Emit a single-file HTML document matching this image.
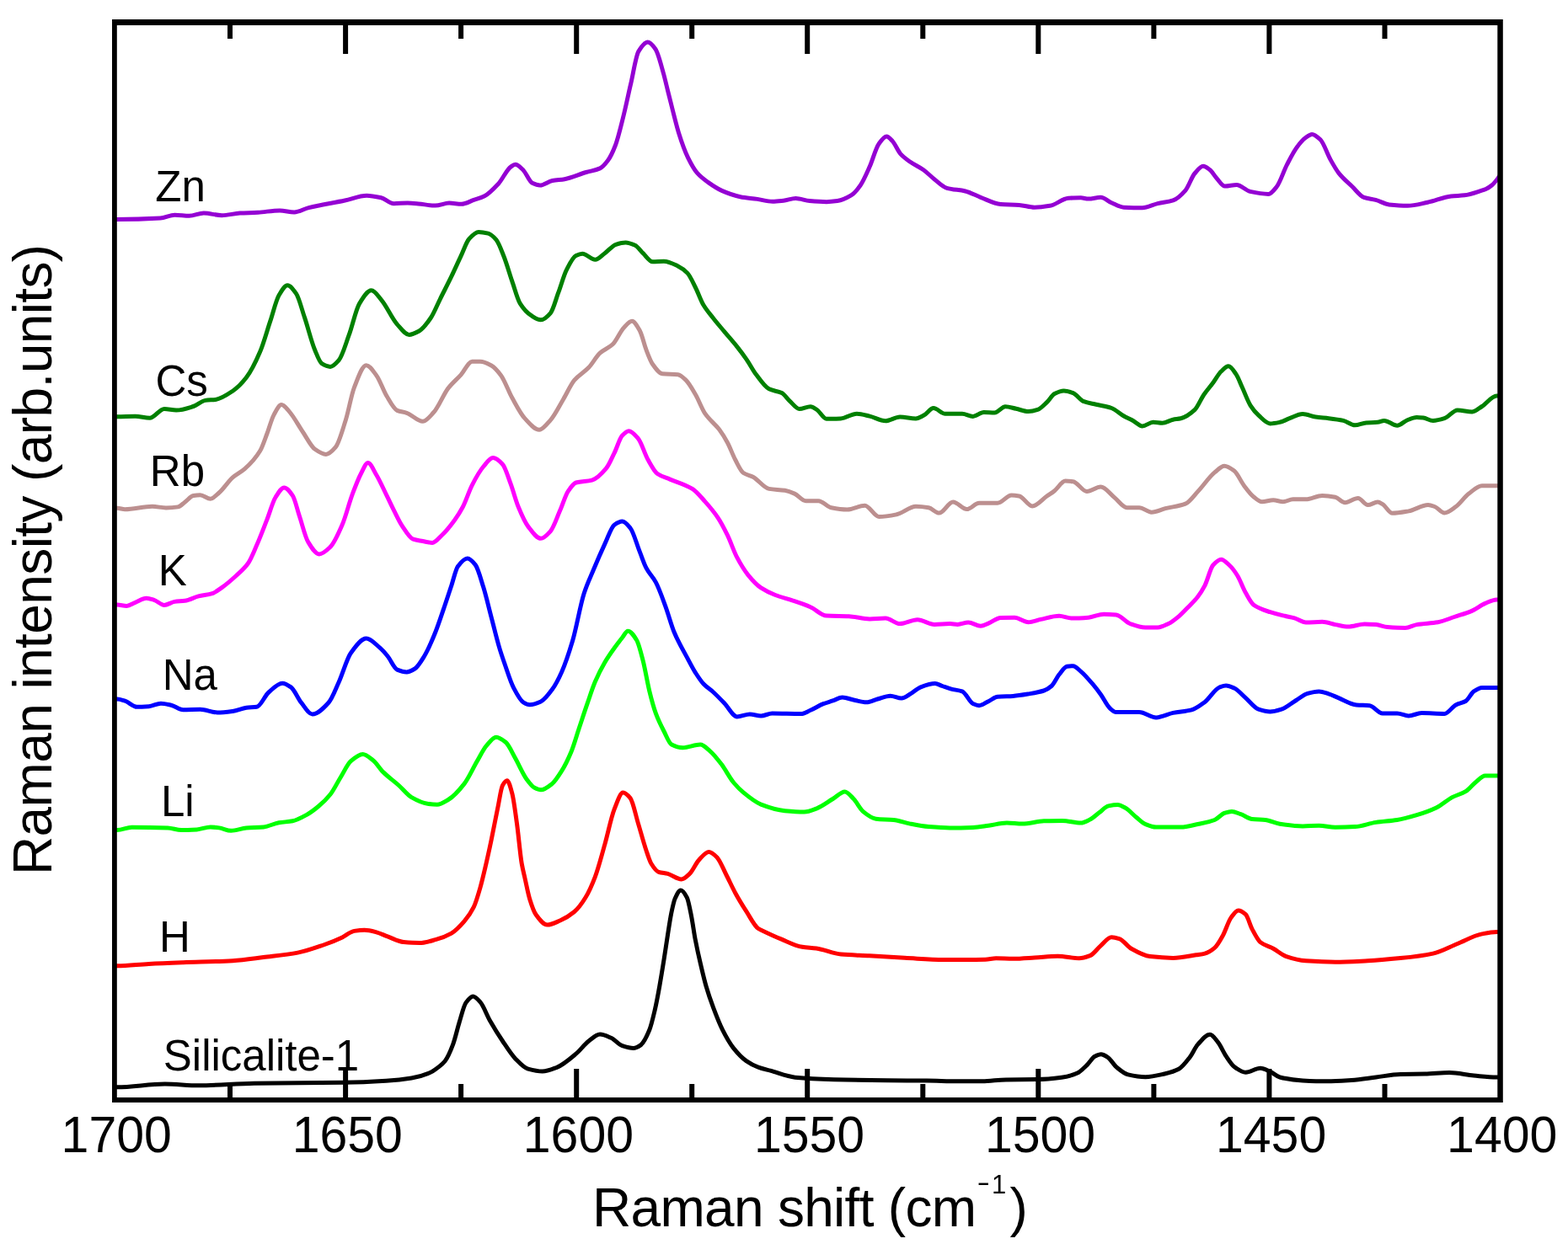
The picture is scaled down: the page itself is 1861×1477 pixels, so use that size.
<!DOCTYPE html>
<html><head><meta charset="utf-8"><title>Raman spectra</title>
<style>
html,body{margin:0;padding:0;background:#fff;overflow:hidden;}
svg{display:block;}
text{font-family:"Liberation Sans",Arial,Helvetica,sans-serif;fill:#000;}
</style></head><body>
<svg width="1861" height="1477" viewBox="0 0 1861 1477">
<rect x="0" y="0" width="1861" height="1477" fill="#fff"/>
<defs><clipPath id="pa"><rect x="136.0" y="26.5" width="1644.5" height="1279.0"/></clipPath></defs>
<g clip-path="url(#pa)" fill="none" stroke-width="5.0" stroke-linejoin="round" stroke-linecap="round">
<path stroke="#9400d3" d="M136.0 260.6C136.9 260.6 137.7 260.6 138.6 260.6C155.8 260.6 173.0 260.1 190.2 259.1C195.9 258.8 201.7 255.2 207.4 255.2C213.1 255.2 218.9 256.3 224.6 256.3C230.3 256.3 236.1 253.1 241.8 253.1C249.0 253.1 256.1 255.7 263.3 255.7C270.5 255.7 277.6 253.5 284.8 253.1C291.9 252.7 299.1 252.6 306.2 252.2C314.8 251.7 323.4 249.9 332.0 249.9C337.7 249.9 343.5 252.0 349.2 252.0C354.9 252.0 360.7 248.0 366.4 246.6C380.7 243.0 395.1 241.0 409.4 238.0C418.0 236.2 426.6 232.2 435.2 232.2C440.9 232.2 446.7 233.5 452.4 234.8C457.4 236.0 462.4 241.7 467.4 241.7C472.9 241.7 478.3 241.0 483.8 241.0C488.0 241.0 492.3 241.5 496.5 241.9C503.2 242.5 509.9 244.1 516.6 244.1C522.1 244.1 527.6 241.0 533.1 241.0C538.0 241.0 542.8 242.3 547.7 242.3C552.6 242.3 557.4 239.1 562.3 237.4C566.6 235.9 570.8 234.9 575.1 232.8C580.6 230.0 586.0 224.1 591.5 218.2C596.4 212.9 601.3 201.5 606.2 198.1C608.0 196.8 609.8 195.3 611.6 195.3C614.7 195.3 617.7 198.9 620.8 201.7C624.4 205.1 628.1 215.6 631.7 217.3C634.8 218.8 637.8 220.0 640.9 220.0C645.8 220.0 650.6 215.4 655.5 214.5C660.4 213.6 665.2 213.5 670.1 212.7C678.6 211.2 687.2 207.0 695.7 204.5C701.2 202.9 706.6 202.4 712.1 199.9C715.2 198.5 718.2 194.9 721.3 190.8C724.3 186.8 727.4 180.3 730.4 172.5C733.4 164.7 736.5 151.6 739.5 139.6C742.6 127.5 745.6 112.5 748.7 99.4C751.7 86.4 754.8 66.1 757.8 61.1C761.5 55.1 765.1 50.1 768.8 50.1C771.8 50.1 774.9 54.1 777.9 58.3C781.0 62.6 784.2 75.7 787.3 86.6C789.1 93.0 791.0 101.3 792.8 108.6C794.6 115.9 796.5 123.4 798.3 130.5C800.7 139.9 803.2 150.2 805.6 157.9C809.2 169.4 812.9 179.6 816.5 187.1C820.2 194.6 823.8 201.2 827.5 205.4C831.8 210.3 836.0 213.3 840.3 216.4C845.8 220.3 851.2 224.0 856.7 226.4C864.0 229.6 871.4 232.3 878.7 233.7C885.4 235.0 892.1 235.4 898.8 236.4C904.9 237.3 910.9 239.2 917.0 239.2C921.3 239.2 925.5 238.7 929.8 238.3C934.7 237.8 939.5 235.5 944.4 235.5C949.9 235.5 955.4 238.1 960.9 238.6C967.6 239.2 974.3 239.7 981.0 239.7C985.3 239.7 989.5 239.2 993.8 238.6C999.3 237.8 1004.7 235.2 1010.2 231.9C1013.9 229.7 1017.5 225.2 1021.2 220.0C1024.8 214.9 1028.5 206.2 1032.1 198.1C1035.8 189.9 1039.4 175.7 1043.1 170.7C1046.1 166.5 1049.2 161.9 1052.2 161.9C1054.6 161.9 1057.1 165.3 1059.5 167.9C1062.6 171.2 1065.6 179.2 1068.7 182.6C1072.3 186.6 1076.0 189.1 1079.6 191.7C1085.1 195.6 1090.6 197.8 1096.1 201.7C1100.4 204.8 1104.6 209.4 1108.9 212.7C1113.9 216.6 1118.8 221.9 1123.8 223.3C1131.1 225.4 1138.4 225.2 1145.7 227.0C1151.8 228.5 1157.8 232.0 1163.9 234.3C1171.8 237.3 1179.8 241.9 1187.7 242.5C1195.0 243.0 1202.3 242.9 1209.6 243.4C1215.7 243.8 1221.8 246.2 1227.9 246.2C1234.0 246.2 1240.1 245.3 1246.2 244.3C1253.5 243.1 1260.8 235.6 1268.1 235.2C1273.0 235.0 1277.8 234.8 1282.7 234.8C1285.7 234.8 1288.8 236.1 1291.8 236.1C1296.7 236.1 1301.5 234.3 1306.4 234.3C1310.7 234.3 1314.9 238.9 1319.2 240.7C1324.1 242.8 1329.0 246.0 1333.9 246.2C1341.2 246.5 1348.5 246.7 1355.8 246.7C1361.9 246.7 1367.9 243.0 1374.0 241.6C1380.1 240.2 1386.2 239.9 1392.3 237.9C1397.2 236.3 1402.0 231.7 1406.9 226.1C1410.6 221.9 1414.2 210.3 1417.9 206.0C1421.3 202.0 1424.6 197.2 1428.0 197.2C1430.6 197.2 1433.3 199.6 1435.9 201.6C1438.6 203.6 1441.2 208.6 1443.9 211.5C1447.2 215.1 1450.5 221.1 1453.8 221.1C1458.4 221.1 1463.1 219.5 1467.7 219.5C1473.0 219.5 1478.3 226.2 1483.6 227.4C1490.9 229.0 1498.2 230.4 1505.5 230.4C1508.8 230.4 1512.1 225.6 1515.4 221.5C1519.4 216.5 1523.4 203.3 1527.4 195.6C1531.4 187.9 1535.3 180.0 1539.3 174.7C1542.6 170.3 1545.9 166.2 1549.2 163.8C1551.9 161.9 1554.5 159.4 1557.2 159.4C1560.5 159.4 1563.8 162.6 1567.1 165.8C1571.1 169.6 1575.1 182.5 1579.1 189.6C1582.4 195.5 1585.7 201.4 1589.0 205.6C1594.3 212.3 1599.6 216.4 1604.9 221.5C1609.5 226.0 1614.2 232.8 1618.8 234.4C1623.4 236.0 1628.1 236.2 1632.7 237.4C1638.0 238.8 1643.3 242.3 1648.6 242.9C1655.9 243.7 1663.2 244.3 1670.5 244.3C1678.5 244.3 1686.4 241.9 1694.4 240.3C1703.7 238.4 1712.9 234.0 1722.2 233.0C1727.5 232.4 1732.8 232.4 1738.1 231.8C1744.7 231.0 1751.4 228.5 1758.0 226.4C1759.8 225.8 1761.7 225.3 1763.5 224.5C1765.8 223.5 1768.2 221.9 1770.5 220.0C1772.6 218.3 1774.8 215.6 1776.9 213.0C1778.1 211.5 1779.3 209.7 1780.5 208.0"/>
<path stroke="#008000" d="M136.0 494.7C137.0 494.7 138.1 494.7 139.1 494.7C146.2 494.7 153.4 494.3 160.5 494.3C166.2 494.3 172.0 496.3 177.7 496.3C183.5 496.3 189.2 485.5 195.0 485.5C199.7 485.5 204.5 487.0 209.2 487.0C216.0 487.0 222.7 484.6 229.5 482.5C234.2 481.0 239.0 476.1 243.7 475.4C247.8 474.8 251.8 474.9 255.9 474.4C262.7 473.5 269.4 468.8 276.2 464.2C281.6 460.5 287.1 455.1 292.5 448.0C297.9 441.0 303.3 430.1 308.7 417.5C312.8 408.0 316.8 393.1 320.9 380.9C324.3 370.7 327.7 356.2 331.1 350.5C334.5 344.9 337.8 338.7 341.2 338.7C344.6 338.7 348.0 343.6 351.4 348.4C354.8 353.2 358.1 366.9 361.5 376.9C365.6 389.0 369.6 405.8 373.7 415.5C376.4 422.0 379.2 430.0 381.9 431.7C385.3 433.8 388.6 435.4 392.0 435.4C395.4 435.4 398.8 431.5 402.2 427.6C406.3 422.9 410.3 408.3 414.4 397.2C418.4 386.2 422.5 367.2 426.5 360.6C431.3 352.8 436.0 344.8 440.8 344.8C444.9 344.8 448.9 351.8 453.0 356.6C459.1 363.8 465.3 378.4 471.4 385.1C476.1 390.3 480.9 397.4 485.6 397.4C489.7 397.4 493.8 395.0 497.9 392.7C502.3 390.2 506.8 384.0 511.2 377.5C515.0 372.0 518.7 362.4 522.5 354.8C526.9 345.9 531.4 337.4 535.8 328.2C539.6 320.3 543.4 311.7 547.2 303.6C550.4 296.9 553.5 287.2 556.7 283.7C560.5 279.6 564.2 275.5 568.0 275.5C571.8 275.5 575.6 276.2 579.4 277.1C582.6 277.9 585.7 280.9 588.9 284.6C592.1 288.3 595.2 297.4 598.4 305.5C601.5 313.5 604.7 324.8 607.8 333.9C611.0 343.1 614.1 355.4 617.3 360.4C621.7 367.5 626.2 371.9 630.6 374.7C634.4 377.1 638.1 379.8 641.9 379.8C645.7 379.8 649.5 376.1 653.3 371.8C656.5 368.2 659.6 355.7 662.8 347.2C666.0 338.7 669.1 326.9 672.3 320.6C676.1 313.2 679.8 305.4 683.6 303.6C686.1 302.4 688.7 301.3 691.2 301.3C696.3 301.3 701.3 308.3 706.4 308.3C710.2 308.3 714.0 303.4 717.8 300.7C722.2 297.5 726.6 291.7 731.0 290.3C734.8 289.1 738.6 288.0 742.4 288.0C746.2 288.0 750.0 289.6 753.8 291.3C756.9 292.7 760.1 297.8 763.2 300.7C767.0 304.3 770.8 310.8 774.6 310.8C779.0 310.8 783.5 310.2 787.9 310.2C793.5 310.2 799.0 313.2 804.6 315.9C808.4 317.7 812.2 320.3 816.0 324.4C819.2 327.8 822.3 335.2 825.5 341.5C828.7 347.8 831.8 357.0 835.0 362.3C838.8 368.6 842.5 372.7 846.3 377.5C850.7 383.2 855.2 388.3 859.6 393.6C864.7 399.7 869.7 405.2 874.8 411.6C878.6 416.4 882.3 421.3 886.1 426.8C889.9 432.3 893.7 439.8 897.5 444.8C902.6 451.5 907.6 459.3 912.7 461.8C917.7 464.3 922.8 464.1 927.8 466.6C931.0 468.2 934.1 473.2 937.3 476.1C941.1 479.5 944.9 485.5 948.7 485.5C953.1 485.5 957.5 482.7 961.9 482.7C964.4 482.7 967.0 484.9 969.5 486.5C973.3 488.9 977.1 497.3 980.9 497.3C986.6 497.3 992.2 497.1 997.9 496.9C1004.2 496.6 1010.6 491.2 1016.9 491.2C1022.0 491.2 1027.0 492.9 1032.1 494.1C1038.4 495.6 1044.7 499.7 1051.0 499.7C1056.7 499.7 1062.4 495.0 1068.1 495.0C1074.4 495.0 1080.7 496.9 1087.0 496.9C1090.2 496.9 1093.3 494.7 1096.5 493.1C1100.3 491.1 1104.1 484.6 1107.9 484.6C1112.6 484.6 1117.2 491.3 1121.9 491.3C1128.6 491.3 1135.3 491.3 1142.0 491.3C1146.3 491.3 1150.5 494.4 1154.8 494.4C1159.1 494.4 1163.3 489.5 1167.6 489.5C1171.9 489.5 1176.1 490.0 1180.4 490.0C1184.7 490.0 1188.9 482.7 1193.2 482.7C1197.5 482.7 1201.7 484.4 1206.0 485.3C1210.9 486.3 1215.7 488.6 1220.6 488.6C1224.2 488.6 1227.9 487.6 1231.5 486.4C1235.2 485.2 1238.8 481.0 1242.5 477.6C1245.5 474.8 1248.6 469.1 1251.6 467.5C1255.3 465.6 1258.9 463.9 1262.6 463.9C1266.3 463.9 1269.9 465.2 1273.6 466.6C1277.9 468.2 1282.1 475.1 1286.4 476.7C1291.3 478.5 1296.1 479.1 1301.0 480.3C1307.1 481.7 1313.1 482.4 1319.2 484.5C1324.1 486.2 1329.0 491.2 1333.9 494.0C1337.5 496.0 1341.2 497.5 1344.8 499.5C1348.5 501.5 1352.1 505.9 1355.8 505.9C1360.1 505.9 1364.3 501.3 1368.6 501.3C1372.2 501.3 1375.9 502.3 1379.5 502.3C1383.8 502.3 1388.0 499.1 1392.3 498.2C1395.4 497.6 1398.4 497.5 1401.5 496.8C1407.0 495.5 1412.4 491.8 1417.9 486.7C1421.6 483.3 1425.2 473.8 1428.9 468.5C1432.5 463.3 1436.1 459.4 1439.7 454.5C1442.9 450.2 1446.1 444.0 1449.3 441.0C1452.2 438.3 1455.1 434.8 1458.0 434.8C1460.9 434.8 1463.9 439.8 1466.8 443.9C1469.4 447.5 1471.9 454.8 1474.5 460.3C1477.7 467.3 1481.0 476.6 1484.2 481.6C1487.4 486.6 1490.6 490.3 1493.8 493.2C1498.3 497.3 1502.9 502.9 1507.4 502.9C1511.3 502.9 1515.1 502.1 1519.0 501.3C1522.9 500.5 1526.7 498.1 1530.6 496.7C1535.8 494.8 1540.9 491.6 1546.1 491.6C1551.2 491.6 1556.4 494.4 1561.5 495.1C1566.7 495.8 1571.8 496.1 1577.0 496.7C1582.8 497.4 1588.6 498.1 1594.4 499.4C1598.9 500.4 1603.5 504.8 1608.0 504.8C1612.5 504.8 1617.0 502.2 1621.5 501.9C1626.0 501.6 1630.6 501.7 1635.1 501.3C1637.7 501.1 1640.2 499.4 1642.8 499.4C1648.0 499.4 1653.1 505.2 1658.3 505.2C1662.2 505.2 1666.0 500.5 1669.9 499.0C1673.8 497.5 1677.6 495.5 1681.5 495.5C1684.1 495.5 1686.6 495.8 1689.2 496.1C1693.1 496.6 1696.9 499.4 1700.8 499.4C1705.3 499.4 1709.9 498.1 1714.4 496.7C1719.5 495.2 1724.7 487.0 1729.8 487.0C1735.6 487.0 1741.5 488.9 1747.3 488.9C1751.2 488.9 1755.0 484.9 1758.9 482.5C1764.7 478.9 1770.5 470.0 1776.3 470.0C1777.7 470.0 1779.1 470.0 1780.5 470.0"/>
<path stroke="#bc8f8f" d="M136.0 603.3C137.0 603.3 138.1 603.3 139.1 603.3C142.2 603.3 145.2 604.8 148.3 604.8C159.1 604.8 170.0 601.3 180.8 601.3C186.2 601.3 191.6 602.9 197.0 602.9C201.7 602.9 206.5 602.6 211.2 601.9C213.9 601.5 216.7 598.2 219.4 596.2C222.8 593.8 226.1 589.1 229.5 588.5C232.2 588.0 234.9 587.7 237.6 587.7C241.7 587.7 245.7 592.2 249.8 592.2C253.2 592.2 256.6 587.9 260.0 585.0C265.4 580.4 270.8 571.5 276.2 566.8C281.0 562.7 285.7 560.8 290.5 556.6C296.6 551.3 302.6 545.4 308.7 535.3C311.4 530.8 314.2 522.1 316.9 515.0C319.6 507.9 322.3 497.5 325.0 492.6C328.0 487.1 331.1 480.5 334.1 480.5C337.2 480.5 340.2 485.3 343.3 488.6C348.7 494.5 354.1 505.1 359.5 513.0C364.2 519.9 369.0 530.0 373.7 533.3C378.1 536.4 382.5 539.4 386.9 539.4C390.6 539.4 394.4 535.5 398.1 531.2C402.2 526.6 406.2 511.5 410.3 498.7C413.7 488.1 417.0 468.7 420.4 460.1C425.2 448.0 429.9 433.7 434.7 433.7C438.8 433.7 442.8 440.5 446.9 445.9C450.9 451.3 455.0 463.7 459.0 470.3C463.1 477.1 467.3 485.6 471.4 487.4C475.2 489.0 478.9 489.0 482.7 490.3C489.0 492.4 495.4 500.3 501.7 500.3C506.1 500.3 510.6 494.1 515.0 489.3C520.7 483.1 526.3 468.2 532.0 460.9C537.1 454.4 542.1 450.5 547.2 444.8C551.6 439.9 556.0 429.2 560.4 429.2C563.6 429.2 566.7 429.2 569.9 429.2C574.3 429.2 578.8 431.6 583.2 434.0C587.0 436.1 590.8 440.6 594.6 445.7C599.0 451.6 603.4 464.4 607.8 472.3C612.9 481.4 617.9 491.5 623.0 496.9C628.7 502.9 634.3 510.2 640.0 510.2C644.4 510.2 648.9 503.7 653.3 498.8C658.4 493.2 663.4 482.7 668.5 474.2C672.9 466.8 677.3 456.6 681.7 451.4C687.4 444.6 693.1 442.3 698.8 436.3C703.2 431.6 707.7 423.2 712.1 419.2C717.1 414.7 722.2 413.6 727.2 408.8C731.6 404.6 736.1 393.4 740.5 388.9C743.7 385.7 746.8 381.3 750.0 381.3C753.1 381.3 756.3 387.2 759.4 392.7C761.9 397.1 764.5 408.9 767.0 415.4C769.5 421.9 772.1 428.9 774.6 432.5C778.4 437.9 782.2 443.4 786.0 443.8C792.2 444.5 798.4 444.1 804.6 444.8C807.8 445.1 810.9 448.4 814.1 451.4C817.9 455.0 821.7 462.0 825.5 468.5C829.3 475.0 833.1 485.6 836.9 491.2C842.6 499.5 848.2 502.7 853.9 510.3C857.1 514.6 860.2 519.6 863.4 525.5C866.6 531.4 869.7 540.4 872.9 546.3C876.0 552.1 879.2 559.4 882.3 561.5C886.1 564.0 889.9 564.2 893.7 566.2C900.0 569.5 906.4 579.3 912.7 580.4C919.0 581.5 925.3 581.3 931.6 582.3C935.4 582.9 939.2 584.4 943.0 586.1C947.4 588.0 951.9 594.7 956.3 594.7C961.3 594.7 966.4 594.7 971.4 594.7C976.5 594.7 981.5 601.8 986.6 602.8C992.9 604.1 999.2 605.1 1005.5 605.1C1012.5 605.1 1019.4 600.3 1026.4 600.3C1032.1 600.3 1037.7 613.6 1043.4 613.6C1050.4 613.6 1057.3 612.2 1064.3 610.8C1071.9 609.3 1079.4 601.3 1087.0 601.3C1092.1 601.3 1097.1 601.9 1102.2 602.8C1106.3 603.5 1110.5 609.1 1114.6 609.1C1120.1 609.1 1125.6 596.0 1131.1 596.0C1136.6 596.0 1142.0 604.6 1147.5 604.6C1152.4 604.6 1157.2 597.3 1162.1 597.3C1169.4 597.3 1176.7 597.3 1184.0 597.3C1189.5 597.3 1195.0 588.1 1200.5 588.1C1203.5 588.1 1206.6 588.5 1209.6 589.0C1214.8 589.8 1219.9 600.9 1225.1 600.9C1230.9 600.9 1236.7 593.0 1242.5 589.0C1245.5 586.9 1248.6 585.1 1251.6 582.7C1255.9 579.4 1260.1 571.1 1264.4 571.1C1267.5 571.1 1270.5 571.4 1273.6 571.7C1279.1 572.3 1284.5 583.6 1290.0 583.6C1295.5 583.6 1300.9 578.1 1306.4 578.1C1311.9 578.1 1317.4 586.5 1322.9 590.9C1327.8 594.8 1332.6 602.7 1337.5 602.7C1342.4 602.7 1347.2 602.7 1352.1 602.7C1357.0 602.7 1361.8 608.2 1366.7 608.2C1372.2 608.2 1377.7 605.1 1383.2 603.7C1391.1 601.7 1399.0 601.3 1406.9 598.2C1411.8 596.3 1416.7 588.8 1421.6 583.6C1428.3 576.6 1434.9 566.4 1441.6 560.9C1445.5 557.7 1449.3 553.2 1453.2 553.2C1457.1 553.2 1460.9 556.1 1464.8 559.0C1468.7 561.9 1472.5 571.3 1476.4 576.4C1480.3 581.5 1484.1 586.9 1488.0 589.9C1491.2 592.4 1494.5 595.7 1497.7 595.7C1502.2 595.7 1506.7 593.8 1511.2 593.8C1515.1 593.8 1519.0 595.7 1522.9 595.7C1526.8 595.7 1530.6 592.8 1534.5 592.8C1539.6 592.8 1544.8 592.8 1549.9 592.8C1556.4 592.8 1562.8 588.4 1569.3 588.4C1574.5 588.4 1579.6 589.2 1584.8 590.3C1588.7 591.1 1592.5 596.7 1596.4 596.7C1601.5 596.7 1606.7 591.5 1611.8 591.5C1615.7 591.5 1619.5 599.6 1623.4 599.6C1627.3 599.6 1631.2 596.1 1635.1 596.1C1637.0 596.1 1639.0 597.5 1640.9 598.6C1644.8 600.8 1648.6 609.3 1652.5 609.3C1658.9 609.3 1665.4 608.0 1671.8 606.9C1679.5 605.5 1687.3 599.6 1695.0 599.6C1697.6 599.6 1700.2 600.6 1702.8 601.5C1706.7 602.8 1710.5 608.9 1714.4 608.9C1718.9 608.9 1723.4 604.7 1727.9 601.5C1733.1 597.9 1738.2 589.8 1743.4 586.0C1748.6 582.2 1753.7 576.8 1758.9 576.8C1764.7 576.8 1770.5 576.8 1776.3 576.8C1777.7 576.8 1779.1 576.8 1780.5 576.8"/>
<path stroke="#ff00ff" d="M136.0 718.0C137.0 718.0 138.1 718.0 139.1 718.0C142.8 718.0 146.6 719.4 150.3 719.4C153.7 719.4 157.1 716.7 160.5 715.4C164.9 713.7 169.3 710.3 173.7 710.3C176.7 710.3 179.8 711.4 182.8 712.3C186.9 713.5 190.9 718.4 195.0 718.4C199.1 718.4 203.1 715.0 207.2 714.4C211.3 713.8 215.3 713.9 219.4 713.3C224.8 712.6 230.2 709.3 235.6 707.9C241.0 706.5 246.5 706.3 251.9 704.6C255.9 703.3 260.0 699.9 264.0 697.1C269.4 693.3 274.9 688.5 280.3 683.5C285.0 679.1 289.8 675.4 294.5 668.7C297.9 663.9 301.3 655.0 304.7 647.3C308.8 638.1 312.8 627.3 316.9 616.9C320.3 608.3 323.6 595.8 327.0 590.5C330.4 585.1 333.8 578.9 337.2 578.9C340.6 578.9 343.9 583.5 347.3 588.4C350.0 592.3 352.7 604.7 355.4 612.8C358.8 623.0 362.2 637.7 365.6 643.3C370.0 650.5 374.4 657.9 378.8 657.9C383.2 657.9 387.6 653.6 392.0 649.4C396.7 644.9 401.5 633.9 406.2 623.0C410.3 613.6 414.3 597.2 418.4 586.4C421.8 577.4 425.2 568.3 428.6 562.0C431.3 557.0 434.0 549.5 436.7 549.5C440.1 549.5 443.4 558.4 446.8 564.0C450.9 570.8 454.9 580.1 459.0 588.4C461.9 594.2 464.7 600.4 467.6 606.1C470.8 612.4 473.9 619.3 477.1 624.1C481.5 630.7 485.9 638.7 490.3 640.2C494.1 641.5 497.9 641.8 501.7 642.5C505.5 643.2 509.3 644.4 513.1 644.4C516.9 644.4 520.6 639.0 524.4 635.5C529.5 630.8 534.5 624.5 539.6 617.5C542.8 613.1 545.9 608.3 549.1 602.3C552.9 595.2 556.6 583.1 560.4 575.8C564.8 567.2 569.3 559.2 573.7 554.0C577.5 549.6 581.3 543.6 585.1 543.6C588.9 543.6 592.7 547.2 596.5 551.2C599.6 554.5 602.8 565.5 605.9 573.9C609.1 582.4 612.2 594.7 615.4 602.3C619.2 611.5 623.0 620.2 626.8 625.1C631.8 631.6 636.9 639.3 641.9 639.3C645.7 639.3 649.5 635.0 653.3 630.8C657.1 626.6 660.9 614.7 664.7 606.1C667.9 598.9 671.0 588.2 674.2 583.4C677.3 578.7 680.5 573.9 683.6 573.0C689.9 571.1 696.3 571.8 702.6 570.1C708.3 568.6 713.9 562.7 719.6 555.9C722.8 552.1 725.9 544.3 729.1 537.9C732.3 531.5 735.4 520.4 738.6 517.1C741.1 514.5 743.7 511.8 746.2 511.8C750.0 511.8 753.7 516.4 757.5 520.8C761.3 525.2 765.1 538.8 768.9 545.5C772.7 552.2 776.5 559.8 780.3 562.5C785.3 566.0 790.2 566.9 795.2 569.1C804.0 572.9 812.9 574.9 821.7 580.4C826.8 583.5 831.8 590.0 836.9 595.6C841.9 601.2 847.0 607.0 852.0 614.6C855.8 620.3 859.6 627.6 863.4 635.4C867.2 643.2 871.0 654.7 874.8 661.9C879.2 670.2 883.6 677.4 888.0 682.8C893.1 689.0 898.1 694.5 903.2 697.9C908.9 701.7 914.5 704.3 920.2 706.5C927.2 709.2 934.1 710.7 941.1 713.1C948.0 715.4 955.0 717.7 961.9 720.7C968.2 723.5 974.6 730.8 980.9 731.1C989.7 731.5 998.6 731.4 1007.4 731.7C1015.6 732.0 1023.9 734.9 1032.1 734.9C1038.4 734.9 1044.7 734.0 1051.0 734.0C1056.7 734.0 1062.4 740.6 1068.1 740.6C1075.0 740.6 1082.0 735.8 1088.9 735.8C1095.6 735.8 1102.4 741.4 1109.1 741.4C1115.2 741.4 1121.3 740.5 1127.4 740.5C1130.4 740.5 1133.5 741.4 1136.5 741.4C1140.8 741.4 1145.0 739.0 1149.3 739.0C1154.2 739.0 1159.0 743.2 1163.9 743.2C1167.0 743.2 1170.0 741.3 1173.1 740.1C1178.0 738.2 1182.8 733.7 1187.7 733.5C1193.2 733.3 1198.6 733.2 1204.1 733.2C1209.6 733.2 1215.1 738.7 1220.6 738.7C1225.5 738.7 1230.3 736.4 1235.2 735.4C1242.5 733.9 1249.8 731.3 1257.1 731.3C1262.0 731.3 1266.8 734.1 1271.7 734.1C1278.4 734.1 1285.1 733.7 1291.8 733.2C1297.9 732.7 1304.0 729.2 1310.1 729.2C1315.0 729.2 1319.8 729.5 1324.7 729.9C1330.2 730.4 1335.7 738.5 1341.2 740.5C1347.3 742.7 1353.3 745.0 1359.4 745.0C1364.3 745.0 1369.1 745.0 1374.0 745.0C1378.3 745.0 1382.5 742.5 1386.8 740.5C1391.1 738.5 1395.3 734.9 1399.6 731.3C1403.3 728.2 1406.9 724.2 1410.6 720.4C1414.3 716.6 1417.9 713.3 1421.6 708.5C1424.4 704.9 1427.2 700.5 1430.0 695.1C1433.2 688.9 1436.5 674.6 1439.7 671.0C1442.9 667.5 1446.1 664.2 1449.3 664.2C1452.5 664.2 1455.8 668.1 1459.0 671.0C1462.2 673.9 1465.5 678.3 1468.7 683.5C1471.9 688.7 1475.2 698.1 1478.4 703.8C1481.6 709.4 1484.8 716.0 1488.0 718.3C1494.5 722.9 1500.9 724.6 1507.4 726.7C1512.6 728.4 1517.7 729.7 1522.9 730.9C1527.4 732.0 1531.9 732.6 1536.4 733.8C1540.9 735.0 1545.4 739.0 1549.9 739.0C1556.4 739.0 1562.8 738.3 1569.3 738.3C1574.5 738.3 1579.6 740.6 1584.8 741.6C1589.9 742.5 1595.1 744.1 1600.2 744.1C1606.7 744.1 1613.1 741.0 1619.6 741.0C1624.1 741.0 1628.6 741.3 1633.1 741.6C1637.6 741.9 1642.2 744.2 1646.7 744.5C1653.8 745.0 1660.8 745.4 1667.9 745.4C1672.4 745.4 1677.0 742.4 1681.5 741.6C1689.9 740.2 1698.2 740.1 1706.6 738.7C1713.1 737.6 1719.5 734.7 1726.0 732.5C1733.1 730.1 1740.2 728.2 1747.3 725.1C1752.4 722.9 1757.6 718.5 1762.7 716.4C1767.2 714.5 1771.8 712.0 1776.3 712.0C1777.7 712.0 1779.1 712.0 1780.5 712.0"/>
<path stroke="#0000ff" d="M136.0 830.1C137.0 830.1 138.1 830.1 139.1 830.1C142.2 830.1 145.2 831.3 148.3 832.2C153.0 833.6 157.8 839.3 162.5 839.3C167.2 839.3 172.0 839.0 176.7 838.7C181.4 838.4 186.2 835.2 190.9 835.2C195.0 835.2 199.0 836.3 203.1 837.2C207.8 838.3 212.6 842.7 217.3 842.7C224.1 842.7 230.8 842.3 237.6 842.3C244.4 842.3 251.2 846.0 258.0 846.0C264.1 846.0 270.1 845.2 276.2 844.4C281.6 843.7 287.1 841.0 292.5 840.3C296.6 839.8 300.6 839.9 304.7 839.3C309.4 838.6 314.2 826.1 318.9 822.0C324.3 817.3 329.7 811.2 335.1 811.2C338.5 811.2 341.9 813.5 345.3 815.9C349.4 818.7 353.4 829.2 357.5 834.2C361.9 839.6 366.3 848.0 370.7 848.0C377.1 848.0 383.6 841.2 390.0 834.2C394.1 829.8 398.1 818.7 402.2 809.8C406.9 799.4 411.7 781.9 416.4 775.3C422.5 766.8 428.6 758.0 434.7 758.0C440.1 758.0 445.5 764.6 450.9 769.2C453.9 771.8 457.0 775.3 460.0 779.0C463.8 783.6 467.6 793.5 471.4 795.1C475.2 796.7 478.9 797.9 482.7 797.9C485.9 797.9 489.0 796.0 492.2 794.1C496.0 791.8 499.8 785.2 503.6 779.0C508.0 771.8 512.5 761.2 516.9 750.2C520.0 742.5 523.2 732.7 526.3 723.6C529.5 714.4 532.6 704.7 535.8 695.2C538.3 687.6 540.9 675.9 543.4 672.5C547.2 667.4 551.0 663.0 554.8 663.0C557.9 663.0 561.1 666.7 564.2 670.6C567.4 674.6 570.5 686.9 573.7 697.1C576.9 707.3 580.0 721.1 583.2 733.1C586.4 745.1 589.5 758.5 592.7 769.1C594.6 775.5 596.5 781.0 598.4 786.5C602.2 797.3 605.9 809.7 609.7 816.9C613.5 824.2 617.3 831.7 621.1 833.9C623.6 835.4 626.2 836.8 628.7 836.8C633.1 836.8 637.5 835.0 641.9 833.0C646.3 831.0 650.8 824.8 655.2 818.8C659.0 813.6 662.8 806.4 666.6 797.9C671.0 788.1 675.4 774.9 679.8 760.0C684.2 744.9 688.7 718.4 693.1 704.7C696.9 692.9 700.7 685.4 704.5 676.3C708.9 665.7 713.4 655.4 717.8 645.9C721.6 637.9 725.3 625.9 729.1 623.2C732.3 620.9 735.4 619.0 738.6 619.0C741.8 619.0 744.9 623.1 748.1 627.0C751.9 631.7 755.6 646.0 759.4 655.4C761.9 661.7 764.5 669.6 767.0 674.4C770.8 681.6 774.6 684.3 778.4 691.4C782.2 698.5 786.0 709.5 789.8 719.8C793.2 729.0 796.6 742.0 800.0 750.2C805.3 763.0 810.7 771.7 816.0 781.7C819.2 787.6 822.3 793.8 825.5 798.8C828.7 803.8 831.8 808.7 835.0 812.0C838.8 816.0 842.5 818.1 846.3 821.5C850.7 825.5 855.2 830.2 859.6 834.8C864.7 840.0 869.7 850.9 874.8 850.9C879.8 850.9 884.9 848.0 889.9 848.0C894.3 848.0 898.8 849.9 903.2 849.9C907.6 849.9 912.1 847.1 916.5 847.1C927.9 847.1 939.2 847.6 950.6 847.6C954.4 847.6 958.1 844.9 961.9 843.3C967.0 841.1 972.0 837.7 977.1 835.7C980.9 834.2 984.7 833.2 988.5 831.9C992.3 830.6 996.0 828.1 999.8 828.1C1004.2 828.1 1008.7 830.1 1013.1 831.0C1018.2 832.0 1023.2 833.8 1028.3 833.8C1032.7 833.8 1037.1 831.2 1041.5 830.0C1046.6 828.6 1051.6 826.2 1056.7 826.2C1061.1 826.2 1065.6 829.1 1070.0 829.1C1073.8 829.1 1077.5 825.6 1081.3 823.4C1085.1 821.2 1088.9 817.2 1092.7 815.8C1098.4 813.7 1104.1 811.6 1109.8 811.6C1112.6 811.6 1115.5 813.5 1118.3 814.5C1121.9 815.7 1125.6 817.1 1129.2 818.1C1133.5 819.2 1137.7 819.3 1142.0 820.9C1146.3 822.5 1150.5 833.6 1154.8 835.5C1157.2 836.6 1159.7 837.7 1162.1 837.7C1165.8 837.7 1169.4 834.4 1173.1 832.7C1176.7 831.0 1180.4 827.6 1184.0 827.3C1190.1 826.7 1196.2 826.8 1202.3 826.4C1209.0 825.9 1215.7 824.7 1222.4 823.6C1227.9 822.7 1233.4 821.8 1238.9 820.0C1241.9 819.0 1245.0 817.1 1248.0 814.5C1251.0 811.9 1254.1 804.5 1257.1 800.8C1260.2 797.0 1263.2 791.8 1266.3 791.3C1268.7 790.9 1271.2 790.7 1273.6 790.7C1276.6 790.7 1279.7 794.6 1282.7 797.1C1287.6 801.2 1292.4 807.0 1297.3 812.7C1300.3 816.3 1303.4 820.3 1306.4 824.5C1310.1 829.6 1313.7 837.9 1317.4 841.0C1319.8 843.1 1322.3 845.5 1324.7 845.5C1333.8 845.5 1343.0 845.5 1352.1 845.5C1358.8 845.5 1365.5 851.9 1372.2 851.9C1378.9 851.9 1385.6 847.8 1392.3 846.4C1399.6 844.9 1406.9 844.7 1414.2 842.8C1419.5 841.4 1424.7 837.3 1430.0 833.4C1435.8 829.1 1441.6 818.1 1447.4 816.0C1450.0 815.1 1452.5 814.1 1455.1 814.1C1458.3 814.1 1461.6 815.6 1464.8 817.0C1469.3 819.0 1473.9 824.7 1478.4 828.6C1483.5 833.1 1488.7 840.5 1493.8 842.2C1498.3 843.7 1502.9 845.1 1507.4 845.1C1511.9 845.1 1516.4 843.6 1520.9 842.2C1526.7 840.4 1532.5 835.0 1538.3 831.5C1542.8 828.8 1547.4 824.7 1551.9 823.4C1556.4 822.1 1560.9 820.9 1565.4 820.9C1569.3 820.9 1573.1 822.6 1577.0 823.8C1580.9 825.0 1584.7 827.0 1588.6 828.6C1595.7 831.5 1602.8 836.3 1609.9 836.9C1615.1 837.4 1620.2 837.2 1625.4 837.7C1630.6 838.2 1635.7 847.0 1640.9 847.0C1646.7 847.0 1652.5 847.0 1658.3 847.0C1662.8 847.0 1667.3 849.9 1671.8 849.9C1677.0 849.9 1682.1 846.6 1687.3 846.6C1696.3 846.6 1705.4 847.4 1714.4 847.4C1718.9 847.4 1723.4 839.2 1727.9 836.9C1731.8 834.9 1735.6 834.8 1739.5 832.5C1742.7 830.6 1746.0 823.1 1749.2 820.9C1752.4 818.7 1755.7 816.4 1758.9 816.4C1764.7 816.4 1770.5 816.4 1776.3 816.4C1777.7 816.4 1779.1 816.4 1780.5 816.4"/>
<path stroke="#00ff00" d="M136.0 985.5C137.0 985.5 138.1 985.5 139.1 985.5C144.9 985.5 150.6 982.3 156.4 982.3C170.6 982.3 184.9 982.5 199.1 982.9C204.5 983.1 209.9 985.5 215.3 985.5C221.4 985.5 227.5 985.2 233.6 984.9C239.0 984.6 244.4 981.9 249.8 981.9C253.2 981.9 256.6 982.4 260.0 982.9C264.7 983.5 269.5 986.3 274.2 986.3C280.3 986.3 286.4 983.6 292.5 983.1C299.3 982.5 306.0 982.6 312.8 981.9C318.9 981.3 325.0 977.8 331.1 976.8C336.5 975.9 341.9 975.8 347.3 974.8C352.7 973.8 358.2 970.6 363.6 967.6C368.3 965.0 373.1 961.4 377.8 957.5C382.5 953.6 387.3 949.3 392.0 943.3C396.1 938.2 400.1 929.6 404.2 923.0C408.3 916.4 412.3 907.2 416.4 903.7C421.1 899.6 425.9 895.5 430.6 895.5C434.7 895.5 438.7 899.5 442.8 902.7C446.9 905.9 450.9 912.9 455.0 916.9C461.1 923.0 467.2 927.0 473.3 932.5C478.3 937.0 483.4 943.8 488.4 946.7C494.7 950.3 501.1 953.5 507.4 954.3C511.2 954.8 515.0 955.2 518.8 955.2C523.2 955.2 527.6 952.1 532.0 949.5C538.3 945.8 544.7 938.7 551.0 930.6C556.0 924.1 561.1 912.6 566.1 904.0C569.9 897.5 573.7 889.4 577.5 885.1C581.3 880.8 585.1 875.2 588.9 875.2C592.7 875.2 596.4 878.2 600.2 881.3C604.0 884.4 607.8 893.6 611.6 900.2C616.0 908.0 620.5 918.9 624.9 924.9C628.1 929.2 631.2 933.7 634.4 935.3C636.9 936.6 639.4 937.8 641.9 937.8C646.3 937.8 650.8 934.1 655.2 930.6C659.0 927.6 662.8 921.5 666.6 915.4C670.4 909.4 674.1 901.8 677.9 892.7C681.1 885.0 684.2 873.7 687.4 864.2C690.6 854.7 693.7 844.9 696.9 835.8C700.1 826.7 703.2 816.7 706.4 809.3C710.2 800.4 714.0 793.0 717.8 786.5C721.6 780.0 725.3 774.8 729.1 769.5C732.3 765.1 735.4 760.9 738.6 757.0C740.8 754.3 743.0 749.2 745.2 749.2C748.7 749.2 752.1 754.4 755.6 760.0C758.1 764.1 760.7 774.9 763.2 784.6C765.7 794.3 768.3 810.4 770.8 820.6C773.3 830.8 775.9 840.3 778.4 847.2C781.6 855.8 784.7 861.9 787.9 868.0C791.0 873.9 794.0 882.4 797.1 884.0C801.5 886.3 805.9 887.8 810.3 887.8C817.3 887.8 824.2 884.0 831.2 884.0C835.0 884.0 838.7 888.4 842.5 891.6C846.9 895.3 851.4 901.1 855.8 906.8C860.9 913.3 865.9 923.5 871.0 929.5C874.8 934.0 878.5 937.8 882.3 940.9C889.3 946.7 896.2 952.4 903.2 955.1C912.7 958.8 922.1 961.8 931.6 962.7C939.2 963.4 946.8 964.0 954.4 964.0C959.4 964.0 964.5 961.7 969.5 959.8C975.8 957.4 982.2 952.3 988.5 948.5C993.2 945.7 998.0 939.9 1002.7 939.9C1006.2 939.9 1009.6 945.0 1013.1 948.5C1016.9 952.4 1020.7 960.5 1024.5 963.6C1029.5 967.7 1034.6 971.6 1039.6 972.2C1046.6 973.0 1053.5 972.8 1060.5 973.5C1066.8 974.1 1073.1 976.7 1079.4 977.9C1087.0 979.4 1094.6 981.0 1102.2 981.6C1110.6 982.3 1119.0 983.0 1127.4 983.0C1136.5 983.0 1145.7 982.8 1154.8 982.5C1160.9 982.3 1167.0 981.1 1173.1 980.3C1180.4 979.3 1187.7 977.0 1195.0 977.0C1201.1 977.0 1207.2 978.1 1213.3 978.1C1221.8 978.1 1230.4 975.1 1238.9 974.8C1246.2 974.6 1253.5 974.4 1260.8 974.4C1268.1 974.4 1275.4 977.0 1282.7 977.0C1286.4 977.0 1290.0 974.8 1293.7 973.0C1297.3 971.2 1301.0 967.5 1304.6 964.8C1308.3 962.1 1311.9 957.6 1315.6 956.9C1319.2 956.2 1322.9 955.6 1326.5 955.6C1329.6 955.6 1332.6 957.7 1335.7 959.3C1340.0 961.6 1344.2 966.8 1348.5 970.2C1352.1 973.1 1355.8 977.0 1359.4 978.5C1363.7 980.3 1367.9 982.1 1372.2 982.1C1382.0 982.1 1391.7 982.1 1401.5 982.1C1408.2 982.1 1414.9 979.9 1421.6 978.5C1428.3 977.1 1434.9 976.1 1441.6 973.5C1445.5 972.0 1449.3 966.7 1453.2 965.4C1456.1 964.5 1459.0 963.5 1461.9 963.5C1465.5 963.5 1469.0 965.5 1472.6 966.7C1477.1 968.3 1481.6 972.0 1486.1 972.5C1491.3 973.1 1496.4 973.0 1501.6 973.5C1507.4 974.1 1513.2 977.4 1519.0 978.3C1528.0 979.6 1537.1 980.9 1546.1 980.9C1552.5 980.9 1559.0 980.3 1565.4 980.3C1571.9 980.3 1578.3 982.2 1584.8 982.2C1592.5 982.2 1600.3 982.0 1608.0 981.6C1616.4 981.2 1624.7 977.6 1633.1 976.4C1641.5 975.2 1649.9 974.8 1658.3 973.5C1666.0 972.3 1673.8 970.0 1681.5 967.7C1689.2 965.4 1697.0 962.7 1704.7 959.0C1711.1 955.9 1717.6 949.7 1724.0 946.4C1729.2 943.7 1734.3 942.8 1739.5 939.7C1743.4 937.4 1747.2 932.1 1751.1 929.0C1755.0 925.9 1758.8 920.9 1762.7 920.9C1767.2 920.9 1771.8 920.9 1776.3 920.9C1777.7 920.9 1779.1 920.9 1780.5 920.9"/>
<path stroke="#ff0000" d="M136.0 1146.8C137.0 1146.8 138.1 1146.8 139.1 1146.8C151.6 1146.8 164.2 1145.0 176.7 1144.4C190.2 1143.7 203.8 1143.2 217.3 1142.7C236.9 1142.0 256.6 1141.8 276.2 1140.7C288.4 1140.0 300.6 1138.1 312.8 1136.6C326.3 1134.9 339.9 1133.7 353.4 1131.1C363.6 1129.2 373.7 1125.5 383.9 1122.0C391.3 1119.4 398.8 1116.4 406.2 1112.9C410.9 1110.7 415.7 1106.1 420.4 1105.4C424.5 1104.8 428.5 1104.3 432.6 1104.3C437.3 1104.3 442.1 1105.6 446.8 1106.8C451.2 1107.9 455.6 1110.3 460.0 1111.9C466.3 1114.2 472.7 1118.1 479.0 1118.6C485.3 1119.1 491.6 1119.5 497.9 1119.5C504.2 1119.5 510.6 1117.4 516.9 1115.7C523.2 1114.0 529.5 1111.7 535.8 1108.1C540.9 1105.2 545.9 1099.8 551.0 1093.9C554.8 1089.5 558.5 1084.6 562.3 1076.9C564.8 1071.7 567.4 1062.8 569.9 1054.1C571.8 1047.6 573.7 1039.4 575.6 1031.4C578.1 1020.7 580.7 1008.9 583.2 996.9C585.7 984.9 588.3 971.2 590.8 959.0C592.7 949.9 594.6 935.8 596.5 932.5C598.3 929.4 600.0 926.8 601.8 926.8C603.8 926.8 605.8 934.7 607.8 941.9C609.7 948.8 611.6 964.3 613.5 977.9C615.4 991.5 617.3 1014.3 619.2 1025.3C620.5 1032.6 621.7 1037.0 623.0 1042.7C624.9 1051.2 626.8 1061.3 628.7 1067.4C631.2 1075.5 633.8 1082.8 636.3 1086.3C640.7 1092.3 645.1 1098.1 649.5 1098.1C654.6 1098.1 659.6 1095.2 664.7 1093.0C670.4 1090.5 676.0 1087.3 681.7 1082.5C686.1 1078.8 690.6 1072.7 695.0 1065.5C698.8 1059.3 702.6 1050.8 706.4 1040.8C710.2 1030.8 714.0 1015.9 717.8 1002.6C721.6 989.4 725.3 970.4 729.1 960.9C732.6 952.2 736.0 941.0 739.5 941.0C742.4 941.0 745.2 944.1 748.1 947.6C751.2 951.4 754.4 967.6 757.5 977.9C760.5 987.8 763.5 999.3 766.5 1008.2C768.7 1014.6 770.8 1022.0 773.0 1025.5C775.9 1030.2 778.8 1034.3 781.7 1035.3C785.3 1036.5 788.9 1036.5 792.5 1037.4C797.9 1038.8 803.4 1043.9 808.8 1043.9C812.0 1043.9 815.3 1040.4 818.5 1037.4C822.1 1034.1 825.8 1025.1 829.4 1021.2C833.4 1017.0 837.3 1011.4 841.3 1011.4C844.5 1011.4 847.8 1014.7 851.0 1017.9C854.6 1021.5 858.3 1031.4 861.9 1038.5C865.5 1045.5 869.1 1053.6 872.7 1060.2C877.0 1068.1 881.4 1075.2 885.7 1081.9C890.5 1089.3 895.2 1099.3 900.0 1102.5C901.3 1103.4 902.5 1103.8 903.8 1104.4C911.5 1108.1 919.2 1111.7 926.9 1114.9C935.3 1118.3 943.7 1123.0 952.1 1124.3C957.7 1125.2 963.3 1125.2 968.9 1126.0C978.7 1127.3 988.5 1132.3 998.3 1133.1C1009.5 1134.1 1020.7 1134.2 1031.9 1134.8C1045.9 1135.6 1059.8 1136.5 1073.8 1137.3C1089.2 1138.1 1104.6 1139.6 1120.0 1139.6C1136.5 1139.6 1152.9 1139.5 1169.4 1139.2C1173.7 1139.1 1177.9 1137.8 1182.2 1137.8C1188.9 1137.8 1195.6 1138.3 1202.3 1138.3C1210.8 1138.3 1219.4 1137.5 1227.9 1137.0C1237.0 1136.5 1246.2 1135.2 1255.3 1135.2C1263.8 1135.2 1272.4 1137.8 1280.9 1137.8C1285.2 1137.8 1289.4 1136.3 1293.7 1134.7C1297.9 1133.1 1302.2 1126.4 1306.4 1122.8C1310.7 1119.1 1314.9 1112.7 1319.2 1112.7C1322.3 1112.7 1325.3 1113.6 1328.4 1114.6C1333.3 1116.1 1338.1 1123.8 1343.0 1126.5C1350.3 1130.6 1357.6 1134.7 1364.9 1135.6C1374.0 1136.7 1383.2 1137.4 1392.3 1137.4C1401.4 1137.4 1410.6 1135.2 1419.7 1133.8C1423.1 1133.3 1426.6 1133.0 1430.0 1132.1C1433.9 1131.1 1437.7 1128.7 1441.6 1125.4C1444.8 1122.7 1448.1 1116.7 1451.3 1110.9C1454.5 1105.1 1457.8 1094.0 1461.0 1089.6C1463.9 1085.6 1466.8 1080.9 1469.7 1080.9C1472.6 1080.9 1475.5 1083.1 1478.4 1085.7C1481.0 1088.0 1483.5 1098.3 1486.1 1103.1C1489.3 1109.2 1492.6 1116.0 1495.8 1118.6C1500.9 1122.7 1506.1 1123.5 1511.2 1126.3C1516.4 1129.1 1521.5 1133.9 1526.7 1135.6C1534.4 1138.2 1542.2 1140.2 1549.9 1140.8C1561.5 1141.6 1573.2 1142.2 1584.8 1142.2C1597.7 1142.2 1610.5 1141.4 1623.4 1140.8C1636.3 1140.1 1649.2 1138.9 1662.1 1137.6C1675.0 1136.3 1687.9 1134.9 1700.8 1132.1C1710.5 1130.0 1720.1 1124.4 1729.8 1120.5C1739.5 1116.6 1749.2 1110.7 1758.9 1108.9C1764.7 1107.8 1770.5 1106.6 1776.3 1106.6C1777.7 1106.6 1779.1 1106.6 1780.5 1106.6"/>
<path stroke="#000000" d="M136.0 1290.8C136.9 1290.8 137.9 1290.8 138.8 1290.8C157.8 1290.8 176.7 1287.0 195.7 1287.0C209.2 1287.0 222.6 1288.8 236.1 1288.8C258.0 1288.8 279.8 1286.6 301.7 1286.3C337.1 1285.7 372.4 1285.9 407.8 1285.3C424.6 1285.0 441.5 1284.2 458.3 1283.2C468.3 1282.6 478.4 1281.6 488.4 1280.0C495.4 1278.9 502.3 1276.9 509.3 1274.0C513.4 1272.3 517.4 1269.3 521.5 1266.1C523.7 1264.4 525.8 1262.7 528.0 1260.0C531.2 1255.9 534.5 1248.3 537.7 1239.8C540.2 1233.1 542.8 1221.5 545.3 1213.3C547.8 1205.1 550.4 1194.1 552.9 1190.6C555.7 1186.7 558.6 1183.0 561.4 1183.0C564.2 1183.0 567.1 1186.5 569.9 1189.6C573.7 1193.7 577.5 1204.7 581.3 1211.4C586.4 1220.3 591.4 1228.4 596.5 1236.0C601.5 1243.5 606.6 1251.8 611.6 1256.9C616.7 1262.1 621.7 1267.8 626.8 1269.2C632.5 1270.8 638.1 1272.1 643.8 1272.1C649.5 1272.1 655.2 1269.5 660.9 1267.3C668.5 1264.3 676.0 1257.6 683.6 1251.2C688.7 1246.9 693.7 1239.8 698.8 1236.0C703.2 1232.7 707.7 1228.1 712.1 1228.1C716.5 1228.1 720.9 1230.4 725.3 1232.3C729.7 1234.2 734.2 1240.2 738.6 1241.7C743.0 1243.2 747.5 1244.6 751.9 1244.6C754.6 1244.6 757.3 1243.0 760.0 1241.2C763.6 1238.8 767.2 1231.4 770.8 1222.7C773.0 1217.5 775.1 1208.2 777.3 1198.9C779.1 1191.0 781.0 1180.9 782.8 1170.7C784.6 1160.7 786.4 1149.5 788.2 1138.2C789.6 1129.2 791.1 1119.0 792.5 1110.0C793.9 1101.0 795.4 1090.8 796.8 1084.0C798.3 1077.0 799.7 1069.9 801.2 1066.7C803.5 1061.7 805.8 1056.9 808.1 1056.9C810.5 1056.9 812.9 1061.0 815.3 1065.6C817.1 1069.1 818.9 1079.4 820.7 1088.4C822.1 1095.6 823.6 1106.8 825.0 1114.4C827.2 1125.9 829.3 1135.4 831.5 1144.7C833.7 1154.0 835.8 1163.2 838.0 1170.7C840.9 1180.7 843.8 1188.9 846.7 1196.7C850.3 1206.3 853.9 1215.6 857.5 1222.7C861.8 1231.3 866.2 1238.9 870.5 1244.4C875.6 1250.8 880.6 1256.1 885.7 1259.6C890.5 1262.9 895.2 1265.5 900.0 1267.2C904.8 1268.9 909.5 1269.9 914.3 1271.2C924.1 1273.9 933.9 1278.3 943.7 1279.2C959.1 1280.7 974.5 1281.3 989.9 1281.7C1010.9 1282.3 1031.8 1282.6 1052.8 1282.8C1068.5 1282.9 1084.3 1282.9 1100.0 1283.1C1112.5 1283.2 1125.1 1283.8 1137.6 1283.8C1147.0 1283.8 1156.4 1283.8 1165.8 1283.8C1175.2 1283.8 1184.6 1282.0 1194.0 1281.9C1206.6 1281.7 1219.1 1281.8 1231.7 1281.6C1241.1 1281.5 1250.5 1280.5 1259.9 1279.3C1266.2 1278.5 1272.4 1276.8 1278.7 1274.0C1282.5 1272.3 1286.2 1268.2 1290.0 1264.6C1293.1 1261.6 1296.3 1255.9 1299.4 1254.3C1301.9 1253.0 1304.4 1251.8 1306.9 1251.8C1309.4 1251.8 1311.9 1253.6 1314.4 1255.2C1318.2 1257.5 1321.9 1264.5 1325.7 1267.5C1330.1 1271.1 1334.5 1274.9 1338.9 1275.9C1345.8 1277.5 1352.6 1278.7 1359.5 1278.7C1367.0 1278.7 1374.6 1276.7 1382.1 1275.0C1387.7 1273.7 1393.4 1272.3 1399.0 1269.3C1403.4 1267.0 1407.8 1260.9 1412.2 1255.2C1415.3 1251.1 1418.5 1243.7 1421.6 1240.2C1426.4 1234.9 1431.2 1228.3 1436.0 1228.3C1439.2 1228.3 1442.3 1233.5 1445.5 1237.4C1448.7 1241.3 1451.9 1249.1 1455.1 1253.8C1458.3 1258.6 1461.6 1264.0 1464.8 1266.4C1469.3 1269.8 1473.9 1273.2 1478.4 1273.2C1484.2 1273.2 1490.0 1268.3 1495.8 1268.3C1499.7 1268.3 1503.5 1270.5 1507.4 1272.2C1511.3 1273.9 1515.1 1278.0 1519.0 1279.0C1528.0 1281.3 1537.1 1282.4 1546.1 1282.9C1555.8 1283.4 1565.4 1283.8 1575.1 1283.8C1584.8 1283.8 1594.4 1283.1 1604.1 1282.5C1613.8 1281.9 1623.4 1280.2 1633.1 1279.0C1642.8 1277.8 1652.4 1275.7 1662.1 1275.5C1671.8 1275.3 1681.5 1275.3 1691.2 1275.1C1700.9 1274.9 1710.5 1273.6 1720.2 1273.6C1729.9 1273.6 1739.5 1276.1 1749.2 1277.0C1758.2 1277.8 1767.3 1279.0 1776.3 1279.0C1777.7 1279.0 1779.1 1279.0 1780.5 1279.0"/>
</g>
<path fill="none" stroke="#000" stroke-width="6" d="M273.0 28.9V45.9M273.0 1304.0V1287.0M410.1 28.9V63.9M410.1 1304.0V1269.0M547.1 28.9V45.9M547.1 1304.0V1287.0M684.2 28.9V63.9M684.2 1304.0V1269.0M821.2 28.9V45.9M821.2 1304.0V1287.0M958.2 28.9V63.9M958.2 1304.0V1269.0M1095.3 28.9V45.9M1095.3 1304.0V1287.0M1232.3 28.9V63.9M1232.3 1304.0V1269.0M1369.4 28.9V45.9M1369.4 1304.0V1287.0M1506.4 28.9V63.9M1506.4 1304.0V1269.0M1643.5 28.9V45.9M1643.5 1304.0V1287.0"/>
<path fill="#000" d="M133 22.9H1783.8V1308.9H133Z M138.8 29.9V1303H1777.3V29.9Z" fill-rule="evenodd"/>
<text transform="translate(138.2 1367.5) scale(1 1.05)" font-size="59" text-anchor="middle">1700</text>
<text transform="translate(412.3 1367.5) scale(1 1.05)" font-size="59" text-anchor="middle">1650</text>
<text transform="translate(686.4 1367.5) scale(1 1.05)" font-size="59" text-anchor="middle">1600</text>
<text transform="translate(960.5 1367.5) scale(1 1.05)" font-size="59" text-anchor="middle">1550</text>
<text transform="translate(1234.5 1367.5) scale(1 1.05)" font-size="59" text-anchor="middle">1500</text>
<text transform="translate(1508.6 1367.5) scale(1 1.05)" font-size="59" text-anchor="middle">1450</text>
<text transform="translate(1782.7 1367.5) scale(1 1.05)" font-size="59" text-anchor="middle">1400</text>
<text x="184.3" y="238.7" font-size="51">Zn</text>
<text x="184.4" y="469.9" font-size="51">Cs</text>
<text x="177.8" y="576.9" font-size="51">Rb</text>
<text x="187.8" y="695.1" font-size="51">K</text>
<text x="192.7" y="819.0" font-size="51">Na</text>
<text x="190.9" y="969.3" font-size="51">Li</text>
<text x="189.0" y="1130.1" font-size="51">H</text>
<text x="193.8" y="1271.1" font-size="51">Silicalite-1</text>
<text x="703" y="1456.2" font-size="64" letter-spacing="-0.7">Raman shift (cm</text>
<text transform="translate(1161.5 1414.2) scale(1.5 1)" x="-1.4" y="0" font-size="31">-</text>
<text x="1177" y="1417" font-size="31">1</text>
<text x="1198.5" y="1456.2" font-size="64">)</text>
<text transform="translate(61 1039) rotate(-90)" font-size="64" letter-spacing="-0.6">Raman intensity (arb.units)</text>
</svg>
</body></html>
